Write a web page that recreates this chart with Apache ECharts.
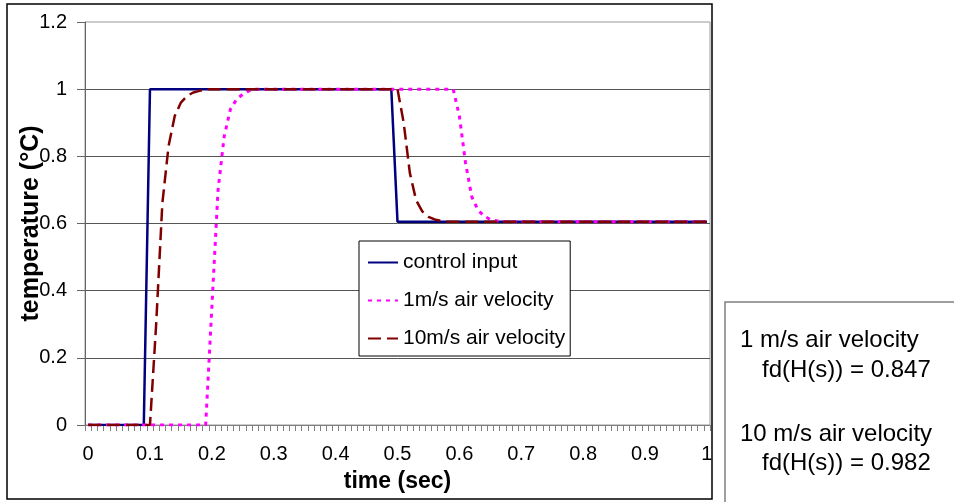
<!DOCTYPE html>
<html>
<head>
<meta charset="utf-8">
<script src="https://cdn.jsdelivr.net/npm/echarts@6/dist/echarts.min.js"></script>
<style>
html,body{margin:0;padding:0;background:#fff;}
#chart{width:954px;height:502px;}
</style>
</head>
<body>
<div id="chart"></div>
<script>
// time categories 0 .. 1 sec, step 0.01
var categories = [];
for (var i = 0; i <= 100; i++) { categories.push(String(+(i / 100).toFixed(2))); }

var xTickLabels = ['0','0.1','0.2','0.3','0.4','0.5','0.6','0.7','0.8','0.9','1'];

var seriesNames = ['control input', '1m/s air velocity', '10m/s air velocity'];

var controlInput = [
  0,0,0,0,0,0,0,0,0,0,
  1,1,1,1,1,1,1,1,1,1,
  1,1,1,1,1,1,1,1,1,1,
  1,1,1,1,1,1,1,1,1,1,
  1,1,1,1,1,1,1,1,1,1,
  0.605,0.605,0.605,0.605,0.605,0.605,0.605,0.605,0.605,0.605,
  0.605,0.605,0.605,0.605,0.605,0.605,0.605,0.605,0.605,0.605,
  0.605,0.605,0.605,0.605,0.605,0.605,0.605,0.605,0.605,0.605,
  0.605,0.605,0.605,0.605,0.605,0.605,0.605,0.605,0.605,0.605,
  0.605,0.605,0.605,0.605,0.605,0.605,0.605,0.605,0.605,0.605,
  0.605
];

var air1 = [
  0,0,0,0,0,0,0,0,0,0,
  0,0,0,0,0,0,0,0,0,0,
  0.35,0.70,0.86,0.94,0.97,0.985,0.995,1,1,1,
  1,1,1,1,1,1,1,1,1,1,
  1,1,1,1,1,1,1,1,1,1,
  1,1,1,1,1,1,1,1,1,1,
  0.92,0.78,0.68,0.64,0.622,0.612,0.608,0.606,0.605,0.605,
  0.605,0.605,0.605,0.605,0.605,0.605,0.605,0.605,0.605,0.605,
  0.605,0.605,0.605,0.605,0.605,0.605,0.605,0.605,0.605,0.605,
  0.605,0.605,0.605,0.605,0.605,0.605,0.605,0.605,0.605,0.605,
  0.605
];

var air10 = [
  0,0,0,0,0,0,0,0,0,0,
  0,0.30,0.66,0.83,0.92,0.96,0.98,0.99,0.995,1,
  1,1,1,1,1,1,1,1,1,1,
  1,1,1,1,1,1,1,1,1,1,
  1,1,1,1,1,1,1,1,1,1,
  1,0.90,0.75,0.67,0.636,0.62,0.612,0.608,0.606,0.605,
  0.605,0.605,0.605,0.605,0.605,0.605,0.605,0.605,0.605,0.605,
  0.605,0.605,0.605,0.605,0.605,0.605,0.605,0.605,0.605,0.605,
  0.605,0.605,0.605,0.605,0.605,0.605,0.605,0.605,0.605,0.605,
  0.605,0.605,0.605,0.605,0.605,0.605,0.605,0.605,0.605,0.605,
  0.605
];

var noteLines = ['1 m/s air velocity', 'fd(H(s)) = 0.847', '10 m/s air velocity', 'fd(H(s)) = 0.982'];

var FONT = '"Liberation Sans", Arial, sans-serif';
var chart = echarts.init(document.getElementById('chart'), null, {renderer: 'canvas'});

var option = {
  animation: false,
  backgroundColor: '#fff',
  textStyle: {fontFamily: FONT},
  grid: {
    left: 85, top: 22, right: 244, bottom: 77,
    outerBoundsMode: 'none', containLabel: false,
    show: true, borderColor: '#999', borderWidth: 1, backgroundColor: '#fff'
  },
  legend: {
    orient: 'vertical',
    left: 359, top: 241,
    padding: [11, 5, 7, 8],
    itemWidth: 30, itemHeight: 20, itemGap: 17,
    backgroundColor: '#fff', borderColor: '#000', borderWidth: 1,
    itemStyle: {color: 'rgba(0,0,0,0)', borderWidth: 0, borderColor: 'rgba(0,0,0,0)'},
    textStyle: {fontSize: 21, color: '#000', fontFamily: FONT},
    data: seriesNames
  },
  xAxis: {
    type: 'category',
    data: categories,
    boundaryGap: true,
    name: 'time (sec)',
    nameLocation: 'middle',
    nameGap: 45,
    nameMoveOverlap: false,
    nameTextStyle: {fontSize: 23, fontWeight: 'bold', color: '#000', fontFamily: FONT},
    axisLine: {lineStyle: {color: '#808080', width: 1}},
    axisTick: {show: true, interval: 0, length: 6, lineStyle: {color: '#808080'}},
    axisLabel: {
      interval: 9,
      margin: 19,
      fontSize: 20, color: '#000', fontFamily: FONT,
      formatter: function (v, idx) { return idx % 10 === 0 ? xTickLabels[idx / 10] : ''; }
    },
    splitLine: {show: false}
  },
  yAxis: {
    type: 'value',
    min: 0, max: 1.2, interval: 0.2,
    name: 'temperature (°C)',
    nameLocation: 'middle',
    nameGap: 41,
    nameMoveOverlap: false,
    nameTextStyle: {fontSize: 25, fontWeight: 'bold', color: '#000', fontFamily: FONT},
    axisLine: {show: true, lineStyle: {color: '#666', width: 1}},
    axisTick: {show: true, length: 8, lineStyle: {color: '#666'}},
    axisLabel: {margin: 18, fontSize: 20, color: '#000', fontFamily: FONT},
    splitLine: {show: true, showMaxLine: false, lineStyle: {color: '#555', width: 1}}
  },
  series: [
    {
      name: seriesNames[0], type: 'line', data: controlInput,
      symbol: 'none', smooth: false,
      lineStyle: {color: '#000080', width: 2.5, type: 'solid'},
      itemStyle: {color: '#000080'}, z: 2
    },
    {
      name: seriesNames[1], type: 'line', data: air1,
      symbol: 'none', smooth: false,
      lineStyle: {color: '#FF00FF', width: 3, type: [4, 5]},
      itemStyle: {color: '#FF00FF'}, z: 3
    },
    {
      name: seriesNames[2], type: 'line', data: air10,
      symbol: 'none', smooth: false,
      lineStyle: {color: '#800000', width: 2.5, type: [13, 6]},
      itemStyle: {color: '#800000'}, z: 4
    }
  ],
  graphic: [
    {
      type: 'rect', silent: true, z: -10,
      shape: {x: 7, y: 4, width: 705, height: 495},
      style: {fill: 'none', stroke: '#000', lineWidth: 1.5}
    },
    {
      type: 'rect', silent: true,
      shape: {x: 725, y: 302, width: 300, height: 300},
      style: {fill: '#fff', stroke: '#808080', lineWidth: 1.5}
    },
    {type: 'text', silent: true, x: 740, y: 340,
      style: {text: noteLines[0], font: '24px ' + FONT, fill: '#000', verticalAlign: 'middle'}},
    {type: 'text', silent: true, x: 762, y: 370,
      style: {text: noteLines[1], font: '24px ' + FONT, fill: '#000', verticalAlign: 'middle'}},
    {type: 'text', silent: true, x: 740, y: 434,
      style: {text: noteLines[2], font: '24px ' + FONT, fill: '#000', verticalAlign: 'middle'}},
    {type: 'text', silent: true, x: 762, y: 463,
      style: {text: noteLines[3], font: '24px ' + FONT, fill: '#000', verticalAlign: 'middle'}}
  ]
};
chart.setOption(option);
</script>
</body>
</html>
